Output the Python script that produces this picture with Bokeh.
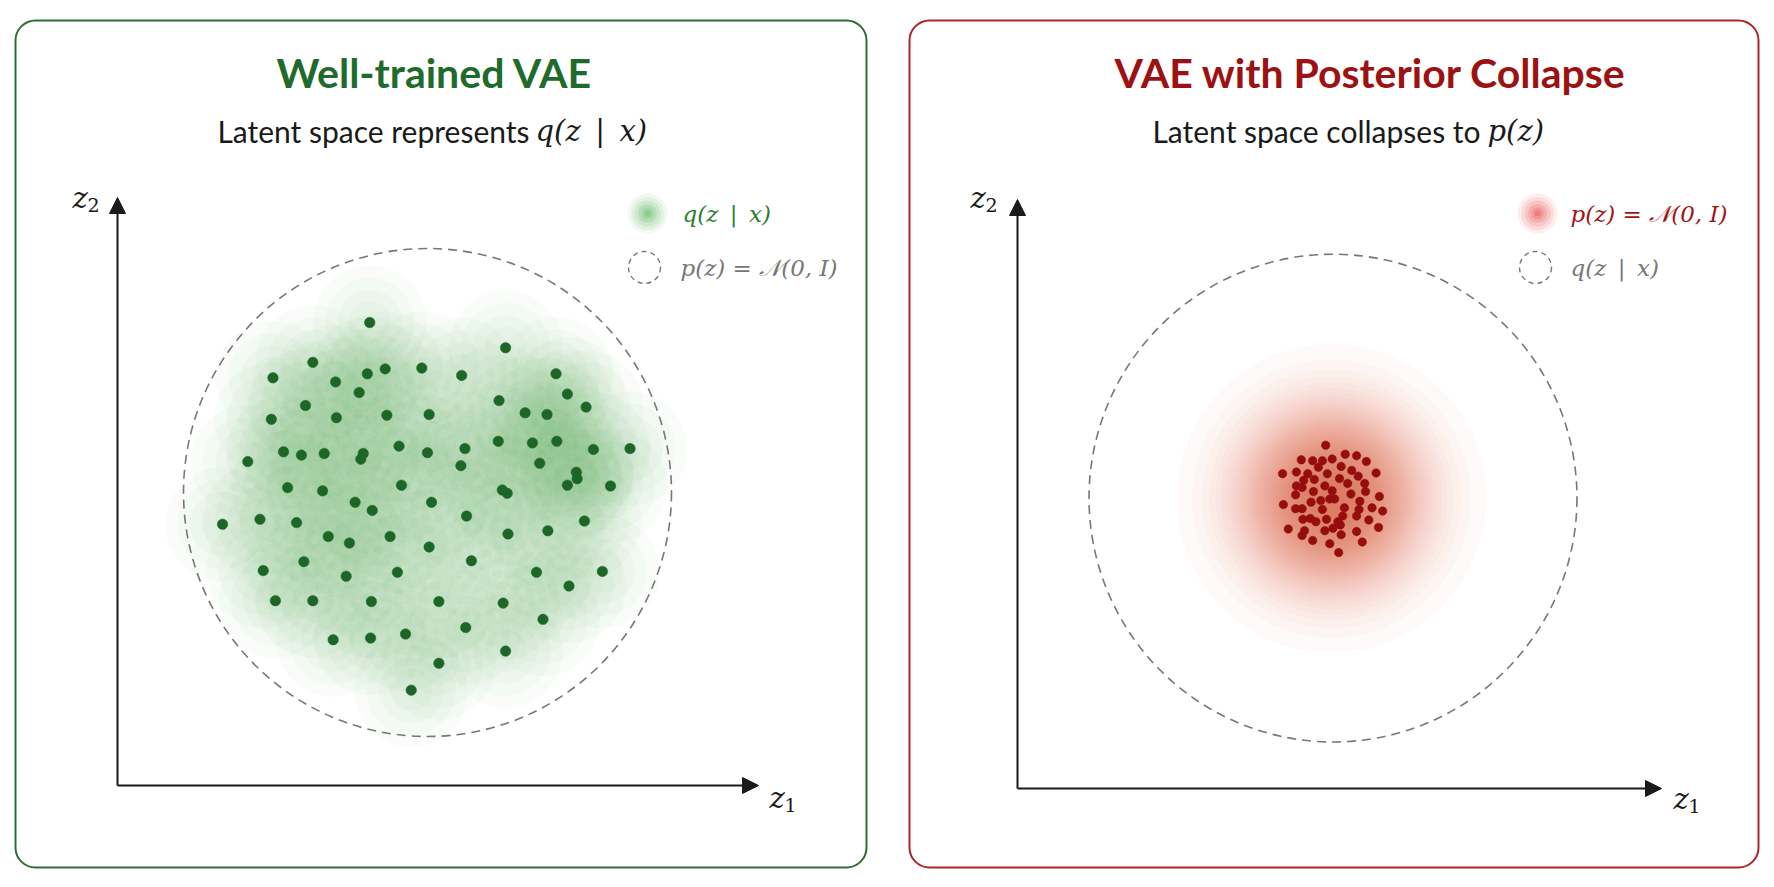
import math
from bokeh.plotting import figure
from bokeh.models import Range1d, Label, Arrow, NormalHead, BoxAnnotation, ColumnDataSource
from bokeh.layouts import row
from bokeh.embed import file_html
from bokeh.resources import INLINE

# ---------------- data (latent coordinates) ----------------
# Well-trained VAE: posterior samples q(z|x) spread over the prior
good_z1 = [-0.71, 0.96, -1.41, -1.90, -0.74, -0.52, -0.07, 0.42, 1.58, -1.13,
           -0.84, 1.72, -1.50, 0.88, 1.95, -1.92, -1.12, -0.50, 0.02, 1.20,
           1.47, 0.87, 1.29, 1.59, 2.04, 2.49, -2.21, -1.77, -1.55, -1.27,
           -0.82, -0.79, -0.35, 0.00, 0.46, 0.41, 1.38, 1.83, 1.84, 1.72,
           2.25, -1.72, -1.29, -0.32, 0.92, 0.98, -0.89, 0.05, -0.68, -2.52,
           -2.06, -1.61, 0.48, 0.99, 1.48, 1.93, -1.22, -0.96, -0.46, 0.02,
           -2.02, -1.52, -1.00, -0.37, 0.54, 1.34, 2.15, 1.74, -1.87, -1.41,
           -0.69, 0.14, 0.93, 1.42, -1.16, -0.70, -0.27, 0.47, 0.96, 0.14,
           -0.20]
good_z2 = [2.09, 1.78, 1.60, 1.41, 1.46, 1.52, 1.53, 1.44, 1.46, 1.36,
           1.23, 1.21, 1.07, 1.13, 1.05, 0.90, 0.92, 0.95, 0.96, 0.98,
           0.96, 0.63, 0.61, 0.63, 0.53, 0.54, 0.38, 0.50, 0.46, 0.48,
           0.41, 0.48, 0.57, 0.49, 0.54, 0.33, 0.36, 0.25, 0.17, 0.09,
           0.08, 0.06, 0.02, 0.09, 0.03, -0.01, -0.12, -0.12, -0.22, -0.39,
           -0.33, -0.37, -0.29, -0.51, -0.47, -0.35, -0.54, -0.62, -0.54, -0.67,
           -0.96, -0.85, -1.03, -0.98, -0.84, -0.98, -0.97, -1.15, -1.33, -1.33,
           -1.34, -1.34, -1.36, -1.56, -1.81, -1.79, -1.74, -1.66, -1.95, -2.10,
           -2.43]

# Posterior collapse: all samples squeezed near the origin
collapse_z1 = [-0.09, -0.39, -0.25, -0.13, -0.01, 0.15, 0.29, 0.41, -0.62, -0.45,
               -0.31, -0.18, -0.07, 0.10, 0.23, 0.31, 0.53, -0.45, -0.36, -0.23,
               -0.10, 0.08, 0.18, 0.39, -0.38, -0.46, -0.24, -0.01, 0.22, 0.40,
               0.57, -0.04, 0.02, -0.61, -0.27, -0.15, 0.33, -0.46, -0.38, -0.13,
               0.14, 0.29, 0.32, 0.48, 0.61, -0.37, -0.28, -0.21, -0.08, 0.06,
               0.12, 0.09, 0.44, -0.55, -0.35, -0.38, -0.10, 0.00, 0.29, 0.56,
               -0.25, -0.04, 0.10, 0.36, 0.07]
collapse_z2 = [0.65, 0.47, 0.46, 0.46, 0.48, 0.54, 0.52, 0.45, 0.30, 0.32,
               0.30, 0.38, 0.30, 0.39, 0.34, 0.27, 0.31, 0.15, 0.22, 0.23,
               0.15, 0.24, 0.18, 0.18, 0.13, 0.04, 0.08, 0.09, 0.05, 0.08,
               0.02, -0.01, -0.01, -0.08, -0.05, -0.03, -0.04, -0.13, -0.13, -0.14,
               -0.12, -0.22, -0.14, -0.12, -0.16, -0.26, -0.25, -0.29, -0.26, -0.29,
               -0.22, -0.33, -0.27, -0.38, -0.40, -0.46, -0.40, -0.37, -0.41, -0.36,
               -0.52, -0.56, -0.45, -0.54, -0.67]

prior_center = (0.0, 0.0)
prior_radius = 3.0

SP = "\u2002"
titles = ["Well-trained VAE", "VAE with Posterior Collapse"]
subtitle_text = ["Latent space represents", "Latent space collapses to"]
subtitle_math = [f"q(z{SP}|{SP}x)", "p(z)"]
legend_fill = [f"q(z{SP}|{SP}x)", "p(z) = \U0001D4A9(0, I)"]
legend_dash = ["p(z) = \U0001D4A9(0, I)", f"q(z{SP}|{SP}x)"]

# ---------------- layout / style ----------------
W, H = 887, 887
S = 81.33  # pixels per latent unit
SANS = "Lato"
SERIF = "DejaVu Serif"
INK = "#1a1a1a"
GRAY = "#777777"


def panel(cx, cy):
    p = figure(width=W, height=H,
               x_range=Range1d(-cx / S, (W - cx) / S),
               y_range=Range1d((cy - H) / S, cy / S),
               output_backend="svg", toolbar_location=None, min_border=0,
               x_axis_location=None, y_axis_location=None,
               outline_line_color=None,
               background_fill_color="white", border_fill_color="white")
    p.grid.visible = False
    X = lambda px: (px - cx) / S
    Y = lambda py: (cy - py) / S
    return p, X, Y


def label(p, x, y, text, size, color, font=SANS, style="normal",
          align="left", baseline="middle"):
    p.add_layout(Label(x=x, y=y, text=text, text_font=font,
                       text_font_size=f"{size}px", text_color=color,
                       text_font_style=style, text_align=align,
                       text_baseline=baseline))


def frame_and_axes(p, X, Y, box, box_color, origin, ytop, xend, z2pos, z1pos):
    p.add_layout(BoxAnnotation(left=X(box[0]), right=X(box[1]), top=Y(box[2]),
                               bottom=Y(box[3]), fill_color=None, fill_alpha=0,
                               line_color=box_color, line_alpha=1.0, line_width=2,
                               border_radius=20))
    ox, oy = origin
    for xe, ye in [(ox, ytop), (xend, oy)]:
        p.add_layout(Arrow(end=NormalHead(size=16, fill_color=INK, line_color=INK),
                           x_start=X(ox), y_start=Y(oy), x_end=X(xe), y_end=Y(ye),
                           line_width=2, line_color=INK))
    for (zx, zy), sub in [(z2pos, "2"), (z1pos, "1")]:
        label(p, X(zx), Y(zy), "z", 29, INK, SERIF, "italic", baseline="alphabetic")
        label(p, X(zx + 15), Y(zy + 7), sub, 19, INK, SERIF, baseline="alphabetic")


def glow_stack(p, x, y, color, sigma, n, alpha):
    # concentric translucent discs approximating a soft gaussian glow
    for k in range(1, n):
        r = sigma * math.sqrt(2 * math.log(n / k))
        p.circle(x=x, y=y, radius=r, fill_color=color, fill_alpha=alpha, line_color=None)


def legend_blob(p, x, y, color):
    for sz, a in [(40, 0.08), (33, 0.10), (26, 0.13), (19, 0.17), (12, 0.2), (6, 0.25)]:
        p.scatter(x=[x], y=[y], size=sz, fill_color=color, fill_alpha=a, line_color=None)


# ================= LEFT PANEL =================
p1, X, Y = panel(427, 492)
src_good = ColumnDataSource(dict(z1=good_z1, z2=good_z2))
for r, a in [(0.70, 0.035), (0.55, 0.035), (0.40, 0.04), (0.26, 0.045)]:
    p1.circle(x="z1", y="z2", radius=r, source=src_good,
              fill_color="#5cb85c", fill_alpha=a, line_color=None)
p1.circle(x=[prior_center[0]], y=[prior_center[1]], radius=prior_radius,
          fill_color=None, line_color=GRAY, line_width=1.6, line_dash="9 6")
p1.scatter(x="z1", y="z2", source=src_good, size=10.5, fill_color="#1c6628",
           line_color="#1c6628", line_width=0.5)

frame_and_axes(p1, X, Y, (15, 866, 20, 867), "#2e6e36",
               (117, 785), 197, 758, (72, 197), (769, 797))
label(p1, X(434), Y(72), titles[0], 41, "#1f6b2c", SANS, "bold", align="center")
label(p1, X(529), Y(130), subtitle_text[0], 30, INK, SANS, align="right")
label(p1, X(535), Y(130), subtitle_math[0], 29, INK, SERIF, "italic")
legend_blob(p1, X(647), Y(213), "#4caf50")
label(p1, X(682), Y(213), legend_fill[0], 23, "#2e7d32", SERIF, "italic")
p1.circle(x=[X(644)], y=[Y(267)], radius=16 / S, fill_color=None,
          line_color=GRAY, line_width=1.4, line_dash="5 4")
label(p1, X(680), Y(267), legend_dash[0], 23, GRAY, SERIF, "italic")

# ================= RIGHT PANEL =================
p2, X, Y = panel(445.5, 497.6)
src_col = ColumnDataSource(dict(z1=collapse_z1, z2=collapse_z2))
mx = sum(collapse_z1) / len(collapse_z1)
my = sum(collapse_z2) / len(collapse_z2)
glow_stack(p2, [mx], [my], "#e53935", 0.70, 40, 0.028)
p2.circle(x=[prior_center[0]], y=[prior_center[1]], radius=prior_radius,
          fill_color=None, line_color=GRAY, line_width=1.6, line_dash="9 6")
p2.scatter(x="z1", y="z2", source=src_col, size=8.5, fill_color="#960d0d",
           line_color="#960d0d", line_width=0.5)

frame_and_axes(p2, X, Y, (22, 871, 20, 867), "#b0232a",
               (130, 788), 199, 774, (83, 197), (786, 798))
label(p2, X(483), Y(72), titles[1], 41, "#9c1212", SANS, "bold", align="center")
label(p2, X(593), Y(130), subtitle_text[1], 30, INK, SANS, align="right")
label(p2, X(600), Y(130), subtitle_math[1], 29, INK, SERIF, "italic")
legend_blob(p2, X(650), Y(213), "#e53935")
label(p2, X(683), Y(213), legend_fill[1], 23, "#a31515", SERIF, "italic")
p2.circle(x=[X(648)], y=[Y(267)], radius=16 / S, fill_color=None,
          line_color=GRAY, line_width=1.4, line_dash="5 4")
label(p2, X(683), Y(267), legend_dash[1], 23, GRAY, SERIF, "italic")

layout = row(p1, p2)
open("out.html", "w").write(file_html(layout, INLINE))
